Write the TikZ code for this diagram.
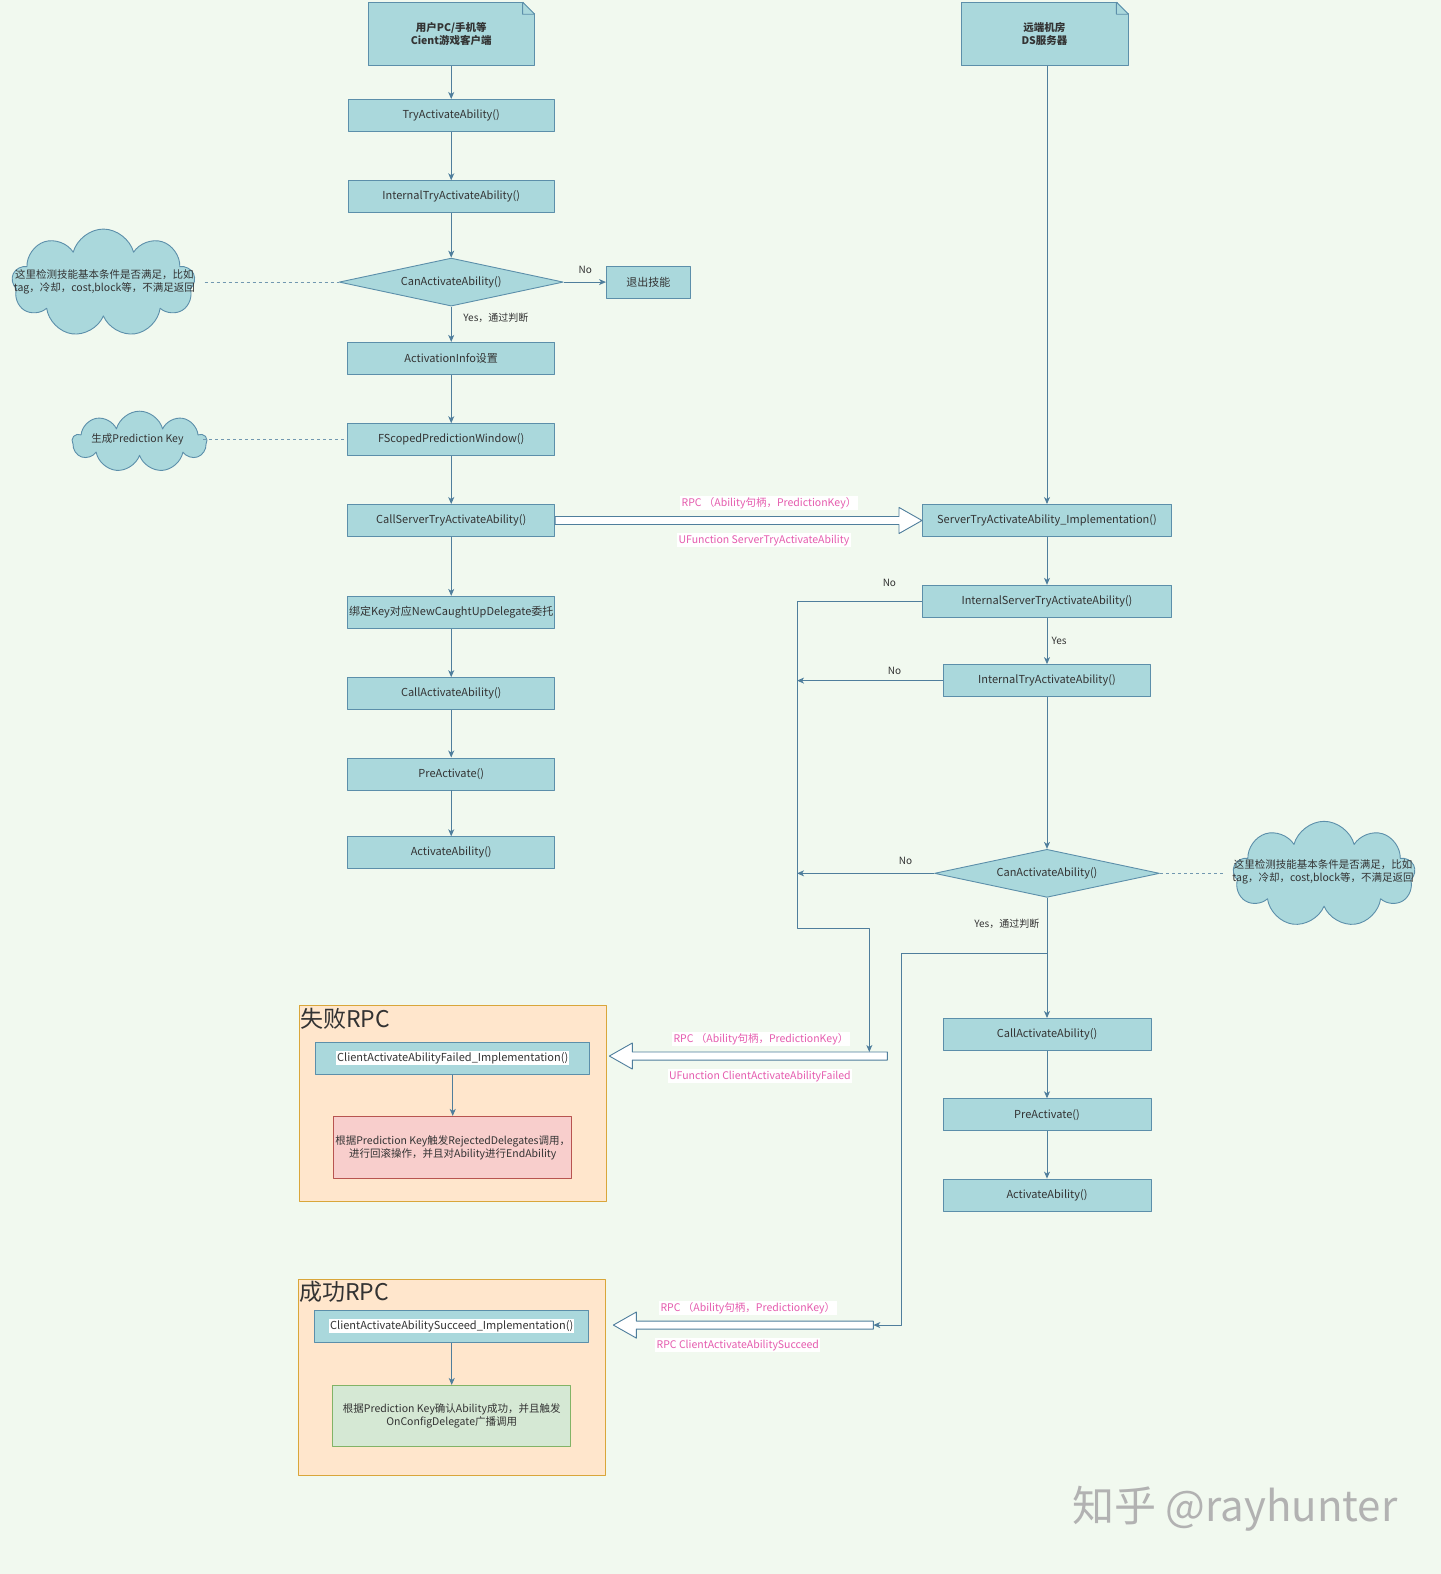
\documentclass[tikz,border=0pt]{standalone}
\usepackage{fontspec}
\setmainfont{Noto Sans CJK SC}
\usetikzlibrary{calc,positioning,arrows.meta,shapes.geometric,shapes.symbols}
\definecolor{Backdrop}{HTML}{F1F9EF}
\definecolor{BoxFill}{HTML}{AAD8DC}
\definecolor{BoxLine}{HTML}{5C8FAA}
\definecolor{Edge}{HTML}{4F7E9C}
\definecolor{TextDark}{HTML}{333333}
\definecolor{LabelPink}{HTML}{E55BAE}
\definecolor{GroupFill}{HTML}{FFE6CC}
\definecolor{GroupLine}{HTML}{D9A63A}
\definecolor{RejectFill}{HTML}{F8CECC}
\definecolor{RejectLine}{HTML}{B85450}
\definecolor{AcceptFill}{HTML}{D5E8D4}
\definecolor{AcceptLine}{HTML}{82B366}
\setlength{\fboxsep}{1pt}

\begin{document}
\begin{tikzpicture}[x=1.0035pt,y=-1.0035pt,line join=round,
  every node/.style={text=TextDark},
  box/.style={draw=BoxLine,fill=BoxFill,line width=0.9pt,minimum width=206pt,minimum height=32pt,inner sep=1pt,font=\fontsize{11}{13}\selectfont},
  doc/.style={box,minimum width=166pt,minimum height=63pt,align=center,font=\bfseries\fontsize{10.5}{12.5}\selectfont},
  decision/.style={box,diamond,aspect=4.6,inner sep=0pt,minimum width=224pt,minimum height=48pt},
  cloudnote/.style={cloud,cloud puffs=9,cloud ignores aspect,draw=BoxLine,fill=BoxFill,line width=0.9pt},
  cloudtext/.style={align=center,inner sep=0pt,font=\fontsize{10.5}{13}\selectfont},
  rpcgroup/.style={draw=GroupLine,fill=GroupFill,line width=0.9pt,minimum width=307pt,minimum height=196pt},
  grouptitle/.style={anchor=west,inner sep=1pt,font=\fontsize{23}{26}\selectfont},
  flow/.style={draw=Edge,line width=0.9pt,-{Stealth[length=7pt,width=6pt,inset=2pt]}},
  link/.style={draw=Edge!80,line width=0.8pt,dash pattern=on 3pt off 3pt},
  bigarrow/.style={draw=Edge,fill=white,line width=0.9pt},
  choice/.style={inner sep=1pt,font=\fontsize{10}{12}\selectfont},
  rpc/.style={text=LabelPink,fill=white,inner sep=1.5pt,font=\fontsize{10.5}{12}\selectfont}]

  \fill[Backdrop] (0,0) rectangle (1435,1568);
  \useasboundingbox (0,0) rectangle (1435,1568);

  % client side
  \node[doc] (client) at (449.5,34) {用户PC/手机等\\Cient游戏客户端};
  \node[box] (try) at (449.5,115) {TryActivateAbility()};
  \node[box] (itry) at (449.5,196) {InternalTryActivateAbility()};
  \node[decision] (canact) at (449.5,281) {CanActivateAbility()};
  \node[box,minimum width=84pt] (quit) at (646,281) {退出技能};
  \node[box,minimum width=207pt] (actinfo) at (449.5,357) {ActivationInfo设置};
  \node[box,minimum width=207pt] (window) at (449.5,438) {FScopedPredictionWindow()};
  \node[box,minimum width=207pt] (callsrv) at (449.5,518.5) {CallServerTryActivateAbility()};
  \node[box,minimum width=207pt] (bind) at (449.5,610) {绑定Key对应NewCaughtUpDelegate委托};
  \node[box,minimum width=207pt] (callact) at (449.5,691) {CallActivateAbility()};
  \node[box,minimum width=207pt] (preact) at (449.5,771) {PreActivate()};
  \node[box,minimum width=207pt] (actab) at (449.5,849.5) {ActivateAbility()};

  \node[cloudnote,minimum width=183pt,minimum height=108pt] (cloudL) at (103,282) {};
  \node[cloudtext] (cloudLtext) at (104,281) {这里检测技能基本条件是否满足，比如\\tag，冷却，cost,block等，不满足返回};
  \node[cloudnote,minimum width=134pt,minimum height=61pt] (cloudkey) at (139,440) {};
  \node[cloudtext] (cloudkeytext) at (137,438) {生成Prediction Key};

  % server side
  \node[doc,minimum width=167pt] (server) at (1040.5,34) {远端机房\\DS服务器};
  \node[box,minimum width=249pt] (srvimpl) at (1043,518.5) {ServerTryActivateAbility\_Implementation()};
  \node[box,minimum width=249pt] (isrv) at (1043,599) {InternalServerTryActivateAbility()};
  \node[box,minimum width=207pt] (itry2) at (1043,678) {InternalTryActivateAbility()};
  \node[decision,minimum width=225pt] (canact2) at (1043,870) {CanActivateAbility()};
  \node[box,minimum width=208pt] (callact2) at (1043,1030.5) {CallActivateAbility()};
  \node[box,minimum width=208pt] (preact2) at (1043,1110.5) {PreActivate()};
  \node[box,minimum width=208pt] (actab2) at (1043,1190.5) {ActivateAbility()};

  \node[cloudnote,minimum width=182pt,minimum height=106pt] (cloudR) at (1319,871) {};
  \node[cloudtext] (cloudRtext) at (1318,869) {这里检测技能基本条件是否满足，比如\\tag，冷却，cost,block等，不满足返回};

  % folded corners of the two documents
  \foreach \d in {client,server} {
    \fill[Backdrop] ($(\d.north east)+(-12,-1)$) -- ($(\d.north east)+(1,-1)$) -- ($(\d.north east)+(1,12)$) -- cycle;
    \draw[BoxLine,line width=0.9pt] ($(\d.north east)+(-12,0)$) -- ($(\d.north east)+(0,12)$)
      ($(\d.north east)+(-12,0)$) -- ++(0,12) -- ($(\d.north east)+(0,12)$);
  }

  % rpc result groups
  \node[rpcgroup] (failgroup) at (451.5,1099) {};
  \node[grouptitle] (failtitle) at (298,1015) {失败RPC};
  \node[box,minimum width=274pt] (failimpl) at (451,1054) {\colorbox{white}{ClientActivateAbilityFailed\_Implementation()}};
  \node[box,draw=RejectLine,fill=RejectFill,minimum width=238pt,minimum height=62pt,align=center,font=\fontsize{10.5}{13}\selectfont] (failreject) at (451,1143) {根据Prediction Key触发RejectedDelegates调用，\\进行回滚操作，并且对Ability进行EndAbility};

  \node[rpcgroup] (succgroup) at (450.5,1372) {};
  \node[grouptitle] (succtitle) at (297,1287) {成功RPC};
  \node[box,minimum width=274pt] (succimpl) at (450,1321) {\colorbox{white}{ClientActivateAbilitySucceed\_Implementation()}};
  \node[box,draw=AcceptLine,fill=AcceptFill,minimum width=238pt,minimum height=61pt,align=center,font=\fontsize{10.5}{13}\selectfont] (succaccept) at (450,1410.5) {根据Prediction Key确认Ability成功，并且触发\\OnConfigDelegate广播调用};

  % free ends of the connectors
  \coordinate (failrail) at (794,925);
  \coordinate (failtap) at (866,1048);
  \coordinate (failtail) at (884,1052);
  \coordinate (failtip) at (607,1052);
  \coordinate (succfork) at (1043,950);
  \coordinate (succrail) at (898,1320);
  \coordinate (succtail) at (870,1320);
  \coordinate (succtip) at (611,1320);

  % hollow rpc arrows
  \foreach \tail/\tip in {callsrv.east/srvimpl.west,failtail/failtip,succtail/succtip}
    \draw[bigarrow] ($(\tail)+(0,-4)$) -- ($(\tip)!23pt!(\tail)+(0,-4)$) -- ($(\tip)!23pt!(\tail)+(0,-13)$)
      -- (\tip) -- ($(\tip)!23pt!(\tail)+(0,13)$) -- ($(\tip)!23pt!(\tail)+(0,4)$) -- ($(\tail)+(0,4)$) -- cycle;

  % connectors
  \foreach \a/\b in {client/try,try/itry,itry/canact,canact/actinfo,actinfo/window,window/callsrv,
      callsrv/bind,bind/callact,callact/preact,preact/actab,
      srvimpl/isrv,isrv/itry2,itry2/canact2,canact2/callact2,callact2/preact2,preact2/actab2,
      failimpl/failreject,succimpl/succaccept}
    \draw[flow] (\a) -- (\b);
  \draw[flow] (canact) -- (quit);
  \draw[flow] (server.south -| srvimpl.north) -- (srvimpl.north);
  \draw[flow] (isrv.west) -| (failrail) -| (failtap);
  \draw[flow] (itry2.west) -- (itry2.west -| failrail);
  \draw[flow] (canact2.west) -- (canact2.west -| failrail);
  \draw[flow] (succfork) -| (succrail) -- (succtail);

  \draw[link,shorten <=10pt] (canact.west -| cloudL.east) -- (canact.west);
  \draw[link,shorten <=-4pt] (window.west -| cloudkey.east) -- (window.west);
  \draw[link,shorten >=8pt] (canact2.east) -- (canact2.east -| cloudR.west);

  % branch labels
  \node[choice] (noquit) at (583,269) {No};
  \node[choice] (yespass) at (494,317) {Yes，通过判断};
  \node[choice] (nosrv) at (886,581) {No};
  \node[choice] (yessrv) at (1055,638) {Yes};
  \node[choice] (notry) at (891,668) {No};
  \node[choice] (nocan) at (902,858) {No};
  \node[choice] (yescan) at (1003,920) {Yes，通过判断};

  % rpc labels
  \node[rpc] (rpcsrvtop) at (766,501) {RPC （Ability句柄，PredictionKey）};
  \node[rpc] (rpcsrvbot) at (761,538) {UFunction ServerTryActivateAbility};
  \node[rpc] (rpcfailtop) at (758,1035) {RPC （Ability句柄，PredictionKey）};
  \node[rpc] (rpcfailbot) at (757,1072) {UFunction ClientActivateAbilityFailed};
  \node[rpc] (rpcsucctop) at (745,1303) {RPC （Ability句柄，PredictionKey）};
  \node[rpc] (rpcsuccbot) at (735,1340) {RPC ClientActivateAbilitySucceed};

  \node[text=black!30,font=\fontsize{42}{46}\selectfont] (mark) at (1230,1503) {知乎 @rayhunter};
\end{tikzpicture}
\end{document}
